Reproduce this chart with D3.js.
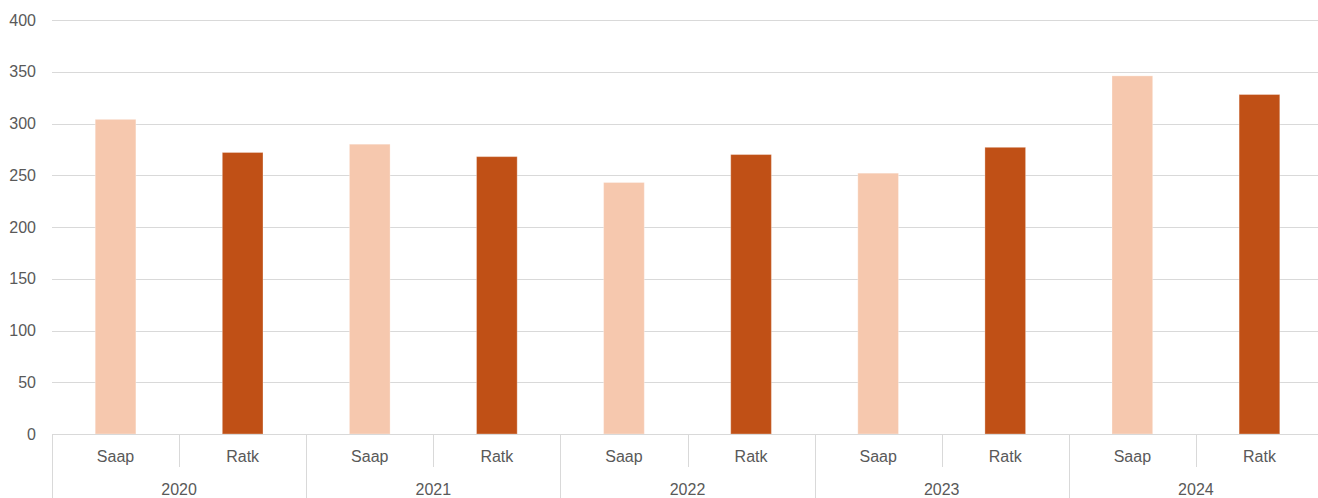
<!DOCTYPE html>
<html>
<head>
<meta charset="utf-8">
<script src="https://cdn.jsdelivr.net/npm/d3@7"></script>
<style>
  html, body { margin: 0; padding: 0; background: #fff; }
  svg { display: block; font-family: "Liberation Sans", Arial, sans-serif; }
</style>
</head>
<body>
<svg id="chart" width="1318" height="498"></svg>
<script>
// ─── Data ───
const years = ["2020", "2021", "2022", "2023", "2024"];
const series = ["Saap", "Ratk"];
const saapValues = [304, 280, 243, 252, 346];
const ratkValues = [272, 268, 270, 277, 328];
const yTicks = [0, 50, 100, 150, 200, 250, 300, 350, 400];
const colors = { Saap: "#f6c8ae", Ratk: "#c05016" };

const W = 1318, H = 498;
// category area runs slightly past the window's right edge
const plot = { left: 52, right: 1323, top: 20, bottom: 434 };

const rows = [];
years.forEach((yr, i) => {
  rows.push({ year: yr, name: "Saap", value: saapValues[i] });
  rows.push({ year: yr, name: "Ratk", value: ratkValues[i] });
});

const svg = d3.select("#chart");

// ─── Scales ───
const y = d3.scaleLinear().domain([0, 400]).range([plot.bottom, plot.top]);
const xYear = d3.scaleBand().domain(years).range([plot.left, plot.right]);
const xSlot = d3.scaleBand().domain(series).range([0, xYear.bandwidth()]);
const barW = xSlot.bandwidth() * 0.32;

// Grid
svg.append("g")
  .selectAll("line")
  .data(yTicks.filter((d) => d > 0))
  .join("line")
  .attr("x1", plot.left)
  .attr("x2", W)
  .attr("y1", (d) => Math.round(y(d)) + 0.5)
  .attr("y2", (d) => Math.round(y(d)) + 0.5)
  .attr("stroke", "#d9d9d9")
  .attr("stroke-width", 1);

// Y labels
svg.append("g")
  .selectAll("text")
  .data(yTicks)
  .join("text")
  .attr("x", 36)
  .attr("y", (d) => y(d))
  .attr("dy", "0.35em")
  .attr("text-anchor", "end")
  .attr("fill", "#595959")
  .attr("font-size", "16px")
  .text((d) => d);

// Bars
svg.append("g")
  .selectAll("rect")
  .data(rows)
  .join("rect")
  .attr("x", (d) => xYear(d.year) + xSlot(d.name) + (xSlot.bandwidth() - barW) / 2)
  .attr("y", (d) => y(d.value))
  .attr("width", barW)
  .attr("height", (d) => y(0) - y(d.value))
  .attr("fill", (d) => colors[d.name])
  .attr("stroke", "#ffffff")
  .attr("stroke-opacity", 0.3)
  .attr("stroke-width", 1);

// ─── Category axis (two levels) ───
const axisG = svg.append("g").attr("stroke", "#d9d9d9").attr("stroke-width", 1);

axisG.append("line")
  .attr("x1", plot.left).attr("x2", W)
  .attr("y1", plot.bottom + 0.5).attr("y2", plot.bottom + 0.5);

// year boundaries (full height)
axisG.selectAll("line.year-sep")
  .data(years)
  .join("line")
  .attr("class", "year-sep")
  .attr("x1", (d) => Math.round(xYear(d)) + 0.5)
  .attr("x2", (d) => Math.round(xYear(d)) + 0.5)
  .attr("y1", plot.bottom)
  .attr("y2", H);

// series boundaries (inner level only)
axisG.selectAll("line.slot-sep")
  .data(years)
  .join("line")
  .attr("class", "slot-sep")
  .attr("x1", (d) => Math.round(xYear(d) + xSlot("Ratk")) + 0.5)
  .attr("x2", (d) => Math.round(xYear(d) + xSlot("Ratk")) + 0.5)
  .attr("y1", plot.bottom)
  .attr("y2", 467);

svg.append("g")
  .selectAll("text")
  .data(rows)
  .join("text")
  .attr("x", (d) => xYear(d.year) + xSlot(d.name) + xSlot.bandwidth() / 2)
  .attr("y", 456)
  .attr("dy", "0.35em")
  .attr("text-anchor", "middle")
  .attr("fill", "#595959")
  .attr("font-size", "16px")
  .text((d) => d.name);

svg.append("g")
  .selectAll("text")
  .data(years)
  .join("text")
  .attr("x", (d) => xYear(d) + xYear.bandwidth() / 2)
  .attr("y", 489)
  .attr("dy", "0.35em")
  .attr("text-anchor", "middle")
  .attr("fill", "#595959")
  .attr("font-size", "16px")
  .text((d) => d);
</script>
</body>
</html>
